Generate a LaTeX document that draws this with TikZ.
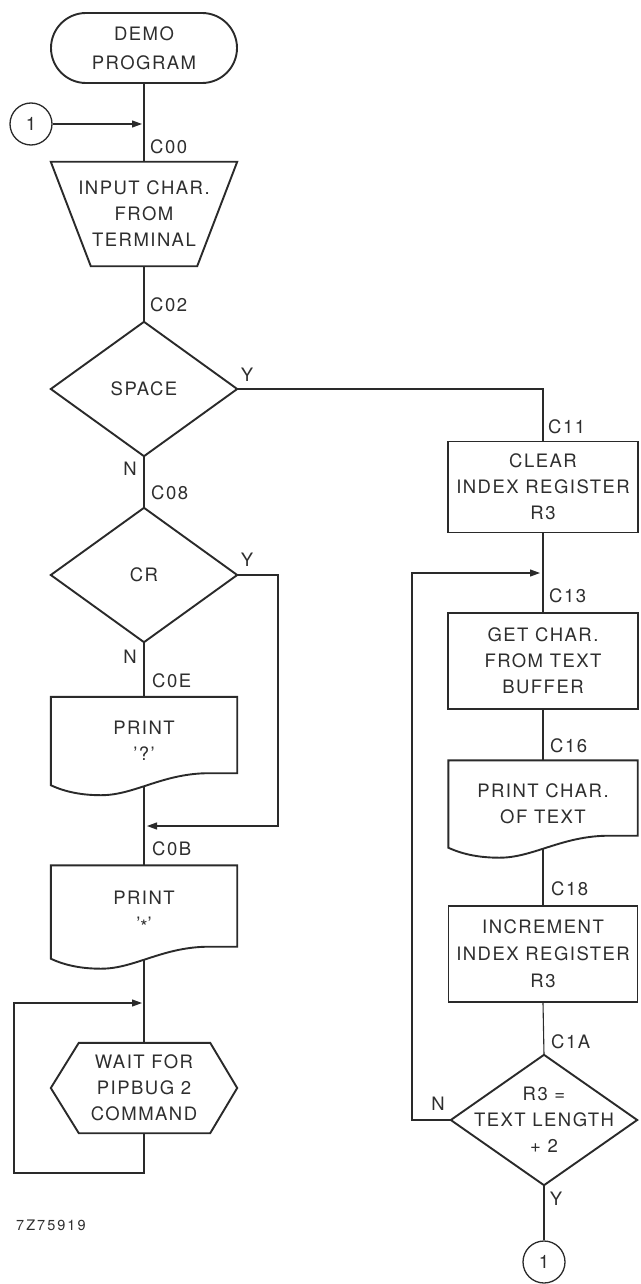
\documentclass[tikz,border=0pt]{standalone}
\usepackage{fontspec}
\setmainfont{TeX Gyre Heros}[LetterSpace=8]
\usetikzlibrary{arrows.meta,shapes.misc,calc}
\pgfdeclarelayer{bg}
\pgfdeclarelayer{mid}
\pgfsetlayers{bg,mid,main}
\definecolor{ink}{HTML}{2A2A2A}
\definecolor{txt}{HTML}{2E2E2E}
\newcommand\docshape[1]{%
  \draw[frm,fill=white] let \p1=(#1.south west), \p2=(#1.north east), \n1={\x2-\x1} in
  (\x1,\y1) -- (\x1,\y2) -- (\x2,\y2) -- (\x2,\y1+12pt) -- (\x1+0.85*\n1,\y1+12pt)
  .. controls (\x1+0.6*\n1,\y1+12pt) and (\x1+0.45*\n1,\y1-10pt) .. (\x1+0.27*\n1,\y1-10pt)
  .. controls (\x1+0.17*\n1,\y1-10pt) and (\x1+0.08*\n1,\y1-7pt) .. cycle;}
\begin{document}
\begin{tikzpicture}[x=1pt,y=-1pt,
  font=\fontsize{18.5}{26}\selectfont, text=txt,
  blk/.style={rectangle, inner sep=0pt, align=center},
  frm/.style={draw=ink, line width=1.9pt, line join=miter},
  rbox/.style={blk, frm},
  wire/.style={draw=ink, line width=1.1pt},
  arr/.style={wire, -{Triangle[length=10pt,width=7pt]}},
  lab/.style={anchor=west, inner sep=0pt},
  yn/.style={inner sep=0pt},
  conn/.style={circle, draw=ink, line width=1.3pt, minimum size=42pt, inner sep=0pt},
  note/.style={anchor=west, inner sep=0pt, font=\fontsize{14.5}{16}\selectfont\addfontfeature{LetterSpace=14}}]
\useasboundingbox (0,0) rectangle (640,1284);

% ---------- left column ----------
\node[rounded rectangle, frm, inner sep=0pt, align=center, minimum width=186pt, minimum height=70pt,
      font=\fontsize{18.5}{29}\selectfont] (start) at (144,48) {DEMO\\PROGRAM};
\node[conn] (c1) at (31,124) {1};
\coordinate (j1) at (142,124);
\node[lab] (l00) at (150,147) {C00};
\node[blk, minimum width=186pt, minimum height=104pt] (input) at (144,214) {INPUT CHAR.\\FROM\\TERMINAL};
\node[lab] (l02) at (150,305) {C02};
\node[blk, minimum width=186pt, minimum height=134pt] (space) at (144,389) {SPACE};
\node[yn] (ys) at (247,375) {Y};
\node[yn] (ns) at (130,469) {N};
\node[lab] (l08) at (151,493) {C08};
\node[blk, minimum width=186pt, minimum height=134pt] (cr) at (144,575) {CR};
\node[yn] (ycr) at (247,560) {Y};
\coordinate (k3) at (278,826);
\coordinate (j2) at (147,826);
\node[yn] (ncr) at (130,657) {N};
\node[lab] (l0e) at (152,681) {C0E};
\node[blk, minimum width=186pt, minimum height=88pt] (pq) at (144,741) {PRINT\\’?’};
\node[lab] (l0b) at (152,849) {C0B};
\node[blk, minimum width=186pt, minimum height=93pt] (ps) at (144,912) {PRINT\\’\raisebox{-3pt}{*}’};
\coordinate (j3) at (142,1003);
\node[blk, minimum width=186pt, minimum height=90pt] (hex) at (144,1088) {WAIT FOR\\PIPBUG 2\\COMMAND};
\coordinate (lb) at (14,1173);
\node[note] (code) at (16,1225) {7Z75919};

% ---------- right column ----------
\node[lab] (l11) at (548,427) {C11};
\node[rbox, minimum width=190pt, minimum height=91pt] (clear) at (543,487) {CLEAR\\INDEX REGISTER\\R3};
\coordinate (j4) at (540,573);
\node[lab] (l13) at (549,596) {C13};
\node[rbox, minimum width=190pt, minimum height=96pt] (getc) at (543,661) {GET CHAR.\\FROM TEXT\\BUFFER};
\node[lab] (l16) at (550,746) {C16};
\node[blk, minimum width=189pt, minimum height=87pt] (pc) at (543,804) {PRINT CHAR.\\OF TEXT};
\node[lab] (l18) at (551,889) {C18};
\node[rbox, minimum width=189pt, minimum height=96pt, font=\fontsize{18.5}{27}\selectfont] (inc) at (543,954) {INCREMENT\\INDEX REGISTER\\R3};
\node[lab] (l1a) at (551,1042) {C1A};
\node[blk, minimum width=186pt, minimum height=130pt] (r3) at (544,1120) {R3 =\\TEXT LENGTH\\+ 2};
\node[yn] (nr3) at (438,1104) {N};
\coordinate (rl) at (412,573);
\node[yn] (yr3) at (556,1199) {Y};
\node[conn] (c2) at (544,1262) {1};

% ---------- outlines ----------
\begin{pgfonlayer}{mid}
\draw[frm,fill=white] (input.north west) -- (input.north east) -- ([xshift=-40pt]input.south east) -- ([xshift=40pt]input.south west) -- cycle;
\draw[frm,fill=white] (space.north) -- (space.east) -- (space.south) -- (space.west) -- cycle;
\draw[frm,fill=white] (cr.north) -- (cr.east) -- (cr.south) -- (cr.west) -- cycle;
\draw[frm,fill=white] (r3.north) -- (r3.east) -- (r3.south) -- (r3.west) -- cycle;
\docshape{pq}
\docshape{ps}
\docshape{pc}
\draw[frm,fill=white] ([xshift=28pt]hex.north west) -- ([xshift=-27pt]hex.north east) -- (hex.east)
  -- ([xshift=-27pt]hex.south east) -- ([xshift=28pt]hex.south west) -- (hex.west) -- cycle;
\end{pgfonlayer}

% ---------- connectors ----------
\begin{pgfonlayer}{bg}
\draw[wire] (start.south) -- (input.north);
\draw[arr] (c1.east) -- (j1);
\draw[wire] (input.south) -- (space.north);
\draw[wire] (space.east) -| (clear.north);
\draw[wire] (space.south) -- (cr.north);
\draw[arr] (cr.east) -| (k3) -- (j2);
\draw[wire] (cr.south) -- (pq.north);
\draw[wire] (pq.south) -- (ps.north);
\draw[wire] (ps.south) -- (hex.north);
\draw[arr] (hex.south) |- (lb) |- (j3);
\draw[wire] (clear.south) -- (getc.north);
\draw[wire] (getc.south) -- (pc.north);
\draw[wire] (pc.south) -- (inc.north);
\draw[wire] (inc.south) -- (r3.north);
\draw[arr] (r3.west) -| (rl) -- (j4);
\draw[wire] (r3.south) -- (c2.north);
\end{pgfonlayer}
\end{tikzpicture}
\end{document}
